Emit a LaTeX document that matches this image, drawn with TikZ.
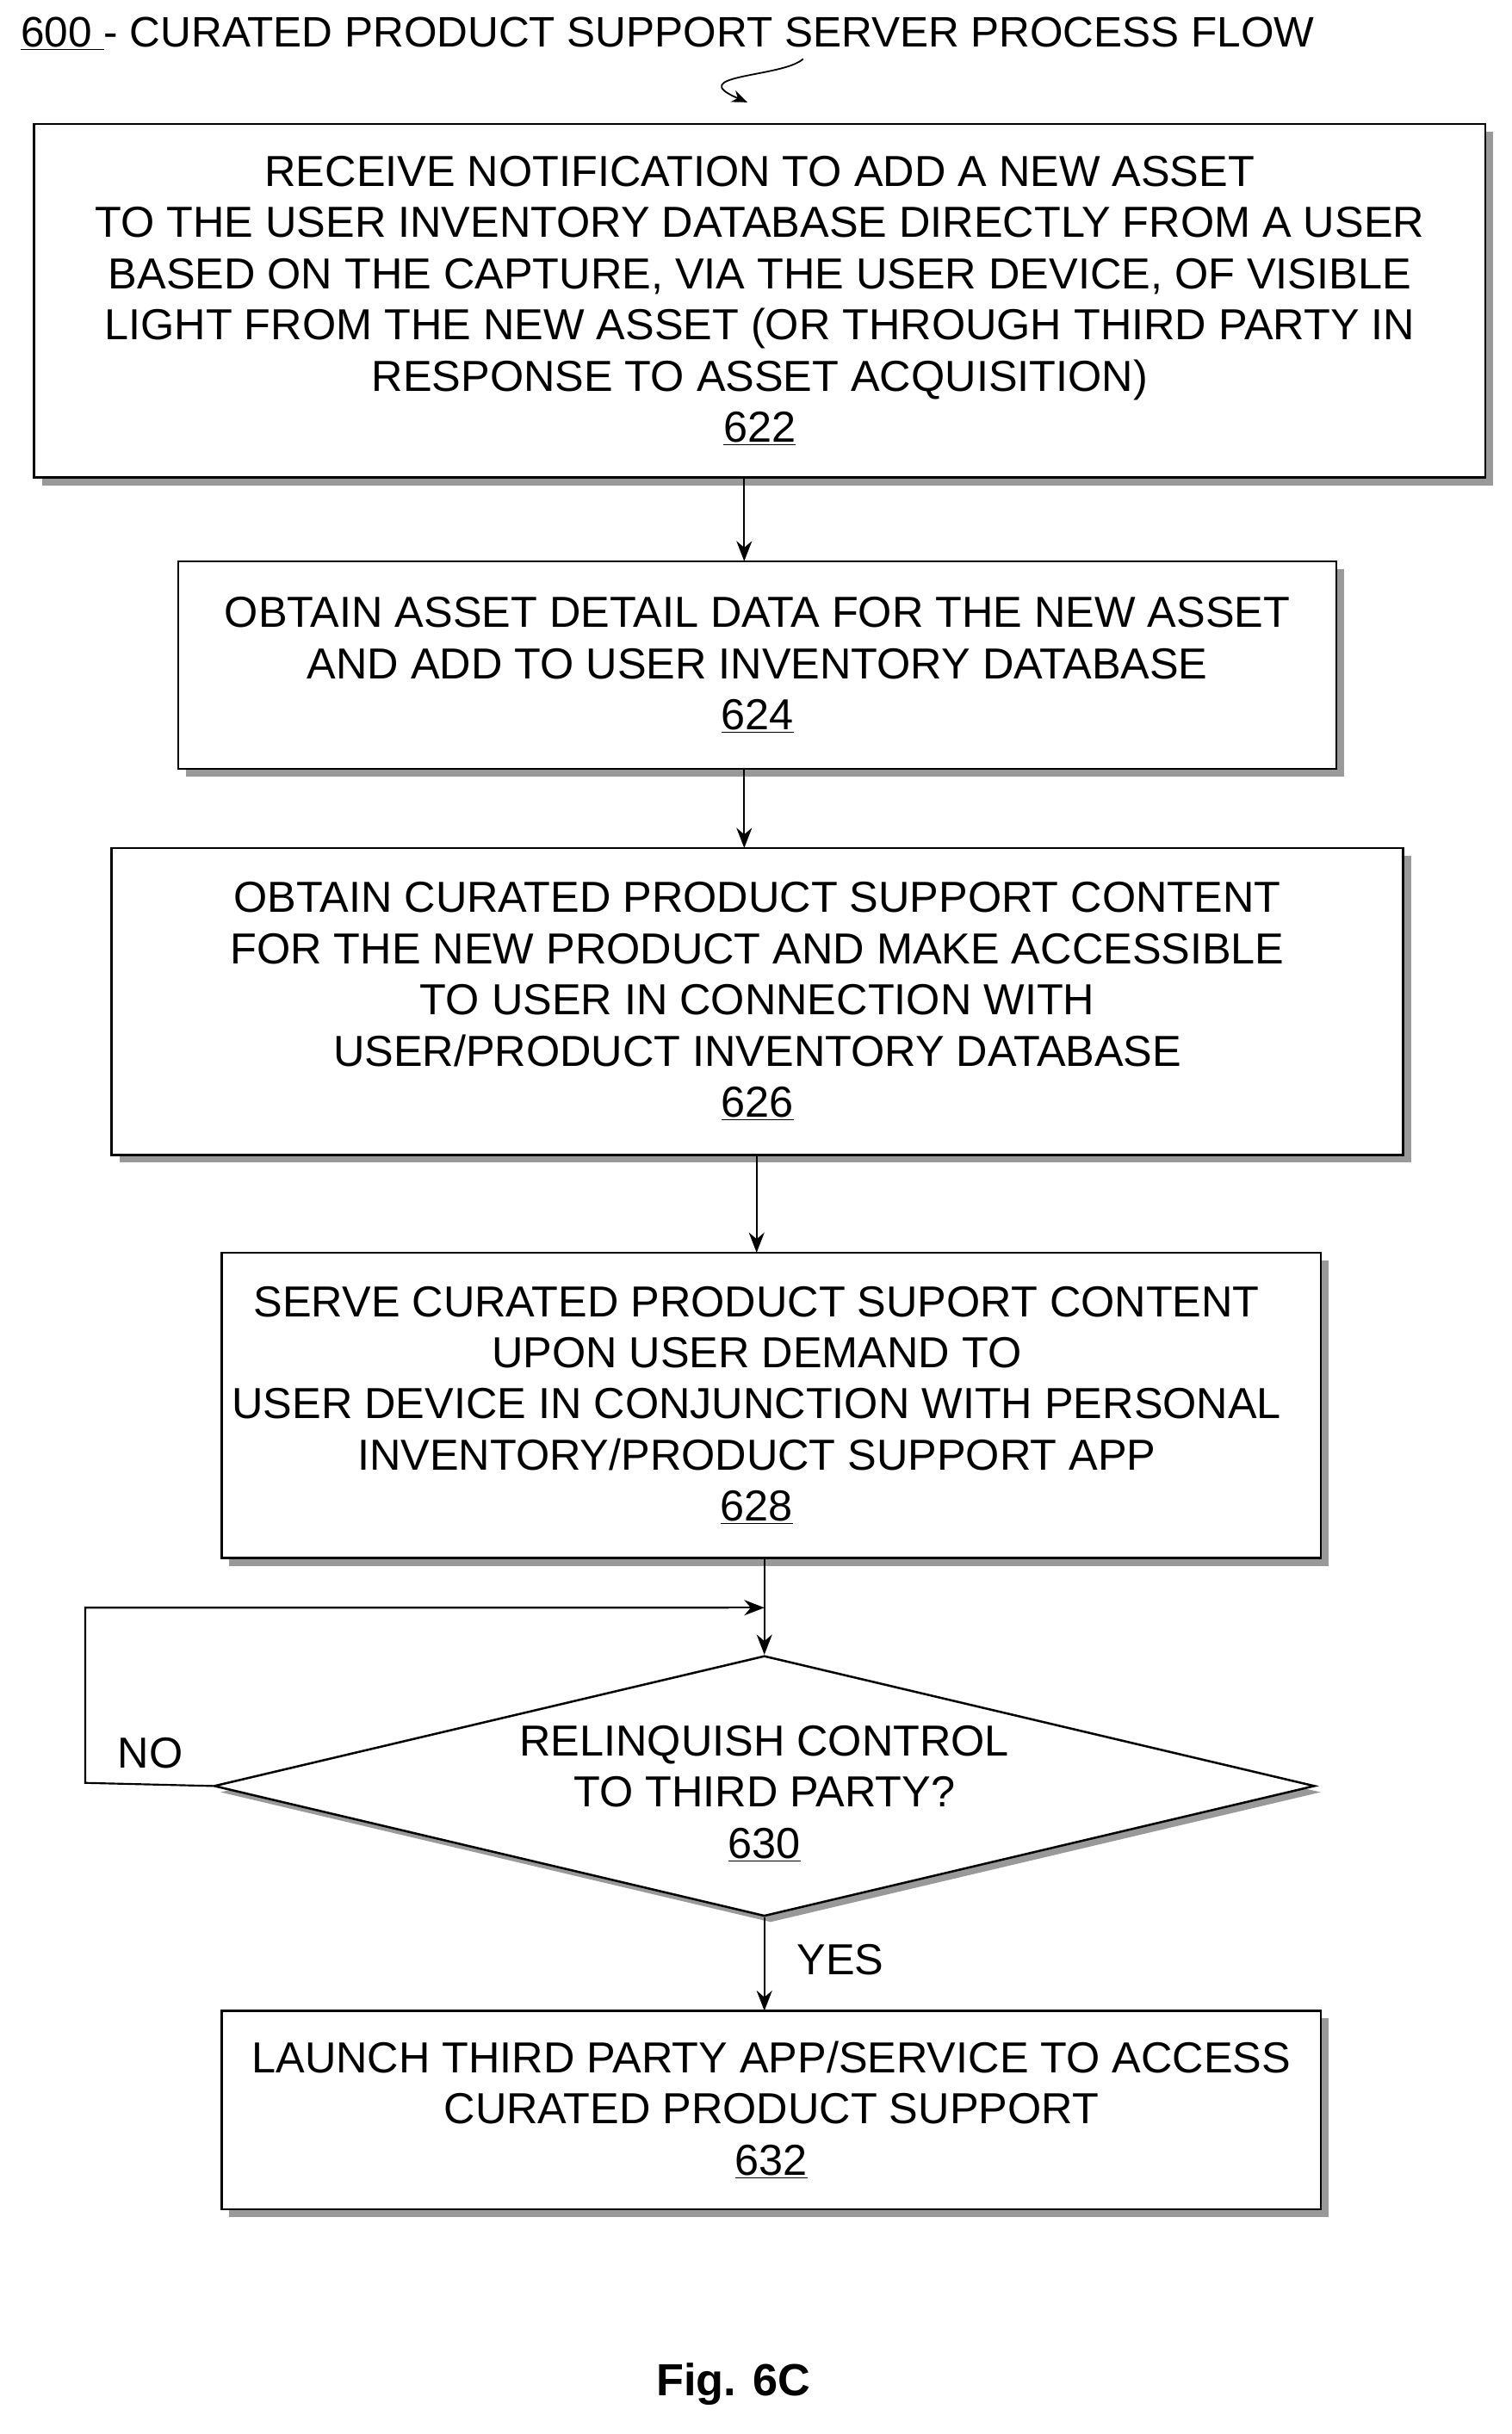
\documentclass[tikz,border=0pt]{standalone}
\usepackage{fontspec}
\setmainfont{Liberation Sans}
\usetikzlibrary{shadows,shapes.geometric,arrows.meta}
\begin{document}
\begin{tikzpicture}[x=1pt,y=-1pt,
  box/.style={draw,line width=1.4pt,fill=white,align=center,inner sep=0pt,
    font=\fontsize{28}{33}\selectfont,
    drop shadow={shadow xshift=5pt,shadow yshift=-5pt,fill=gray!80,opacity=1}},
  arr/.style={line width=1.2pt,-{Stealth[length=13pt,width=10pt]}},
  lab/.style={font=\fontsize{28}{33}\selectfont}]
\useasboundingbox (0,0) rectangle (975,1570);
\node[lab,anchor=west,font=\fontsize{27.5}{33}\selectfont] (title) at (10,22) {\underline{600 }- CURATED PRODUCT SUPPORT SERVER PROCESS FLOW};
\node[box,minimum width=936pt,minimum height=228pt] (b622) at (490,194) {RECEIVE NOTIFICATION TO ADD A NEW ASSET\\TO THE USER INVENTORY DATABASE DIRECTLY FROM A USER\\BASED ON THE CAPTURE, VIA THE USER DEVICE, OF VISIBLE\\LIGHT FROM THE NEW ASSET (OR THROUGH THIRD PARTY IN\\RESPONSE TO ASSET ACQUISITION)\\\underline{622}};
\node[box,minimum width=747pt,minimum height=134pt] (b624) at (488.5,429) {OBTAIN ASSET DETAIL DATA FOR THE NEW ASSET\\AND ADD TO USER INVENTORY DATABASE\\\underline{624}};
\node[box,minimum width=833pt,minimum height=198pt] (b626) at (488.5,646) {OBTAIN CURATED PRODUCT SUPPORT CONTENT\\FOR THE NEW PRODUCT AND MAKE ACCESSIBLE\\TO USER IN CONNECTION WITH\\USER/PRODUCT INVENTORY DATABASE\\\underline{626}};
\node[box,minimum width=709pt,minimum height=197pt] (b628) at (497.5,906.5) {};
\node[lab,align=center] (t628) at (488,906.5) {SERVE CURATED PRODUCT SUPORT CONTENT\\UPON USER DEMAND TO\\USER DEVICE IN CONJUNCTION WITH PERSONAL\\INVENTORY/PRODUCT SUPPORT APP\\\underline{628}};
\node[diamond,draw,line width=1.4pt,fill=white,aspect=4.2,minimum width=710pt,minimum height=168pt,inner sep=0pt,
  drop shadow={shadow xshift=4pt,shadow yshift=-4pt,fill=gray!80,opacity=1}] (d630) at (493,1152) {};
\node[lab,align=center] (t630) at (493,1157) {RELINQUISH CONTROL\\TO THIRD PARTY?\\\underline{630}};
\node[box,minimum width=709pt,minimum height=128pt] (b632) at (497.5,1361) {LAUNCH THIRD PARTY APP/SERVICE TO ACCESS\\CURATED PRODUCT SUPPORT\\\underline{632}};
\coordinate (j) at (493,1037);
\draw[arr] (480,308) -- (480,362);
\draw[arr] (480,496) -- (480,547);
\draw[arr] (488,745) -- (488,808);
\draw[arr] (493,1005) -- (d630.north);
\draw[line width=1.2pt] (d630.west) -- (55,1150) -- (55,1037) -- (470,1037);
\draw[arr] (460,1037) -- (j);
\draw[arr] (d630.south) -- (493,1297);
\node[lab] (no) at (97,1131) {NO};
\node[lab] (yes) at (542,1264) {YES};
\draw[line width=1pt,-{Stealth[length=10pt,width=8pt]}] (518,38) .. controls (505,50) and (440,48) .. (482,66);
\node[font=\fontsize{29}{33}\selectfont\bfseries] (fig) at (473,1538) {Fig. 6C};
\end{tikzpicture}
\end{document}
